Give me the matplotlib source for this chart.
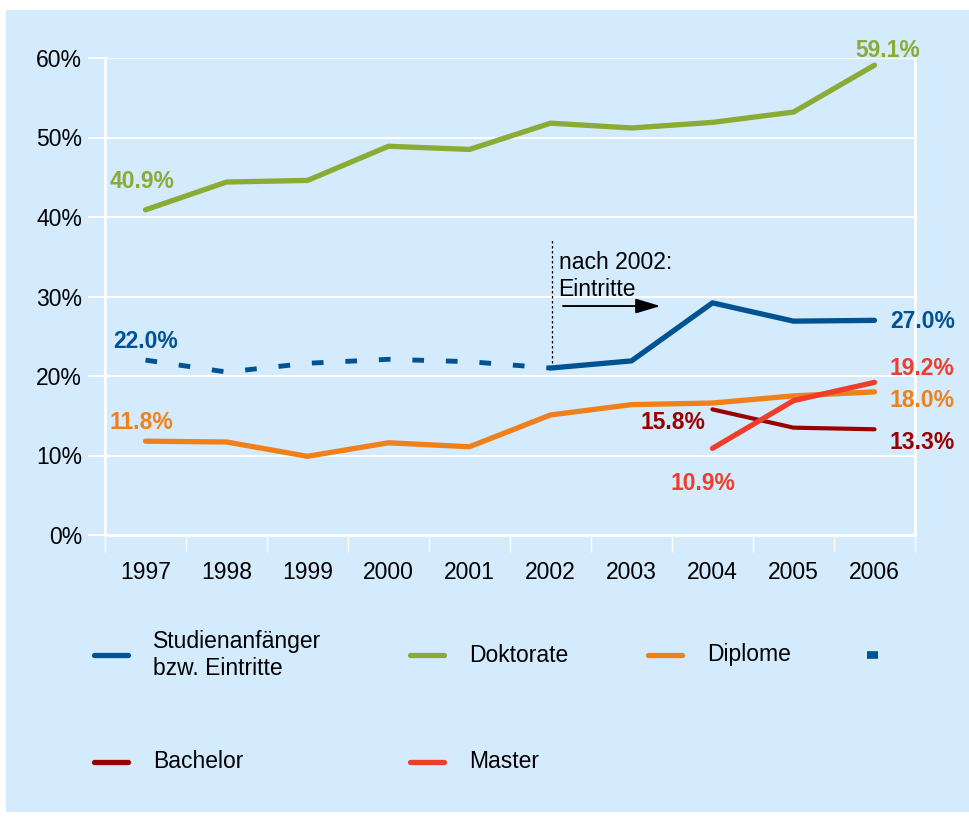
import matplotlib.pyplot as plt
import numpy as np
from matplotlib.patches import Rectangle
from matplotlib.lines import Line2D

plt.rcParams['font.family'] = ['Liberation Sans', 'DejaVu Sans']

# data (percent)
years = ["1997", "1998", "1999", "2000", "2001", "2002", "2003", "2004", "2005", "2006"]
doktorate = [40.9, 44.4, 44.6, 48.9, 48.5, 51.8, 51.2, 51.9, 53.2, 59.1]
anfaenger = [22.0, 20.5, 21.6, 22.1, 21.8, 21.0]          # 1997-2002, dashed
eintritte = [21.0, 21.9, 29.2, 26.9, 27.0]                # 2002-2006, solid
diplome = [11.8, 11.7, 9.9, 11.6, 11.1, 15.1, 16.4, 16.6, 17.5, 18.0]
bachelor = [15.8, 13.5, 13.3]                             # 2004-2006
master = [10.9, 16.9, 19.2]                               # 2004-2006

c_blue = "#005293"
c_green = "#8aab34"
c_orange = "#f0801a"
c_bach = "#990000"
c_master = "#ee3d2b"
bg = "#d4eafd"

W, H = 970, 817
fig = plt.figure(figsize=(W / 100, H / 100), dpi=100)
fig.patch.set_facecolor("white")
fig.add_artist(Rectangle((6 / W, 5 / H), (W - 6) / W, (807 - 5) / H,
                         transform=fig.transFigure, facecolor=bg, edgecolor="none", zorder=-10))

ax = fig.add_axes([105 / W, (H - 535) / H, (915 - 105) / W, (535 - 58) / H])
ax.set_facecolor("none")

x = np.arange(len(years))
ax.plot(x, doktorate, color=c_green, lw=3.8, solid_capstyle="round", zorder=3)
ax.plot(x[:6], anfaenger, color=c_blue, lw=3.5, dashes=(2.4, 4.5), dash_capstyle="butt", zorder=3)
ax.plot(x[5:], eintritte, color=c_blue, lw=3.8, solid_capstyle="round", zorder=3)
ax.plot(x, diplome, color=c_orange, lw=3.8, solid_capstyle="round", zorder=3)
ax.plot(x[7:], bachelor, color=c_bach, lw=3.0, solid_capstyle="round", zorder=3)
ax.plot(x[7:], master, color=c_master, lw=3.8, solid_capstyle="round", zorder=4)

ax.set_xlim(-0.5, 9.5)
ax.set_ylim(0, 60)
ax.set_yticks(range(0, 61, 10))
ax.set_yticklabels([f"{v}%" for v in range(0, 61, 10)], fontsize=16.5)
ax.set_xticks(x)
ax.set_xticklabels(years, fontsize=16.5)
ax.set_xticks(np.arange(-0.5, 10, 1), minor=True)
ax.tick_params(axis="x", which="major", length=0, pad=19)
ax.tick_params(axis="x", which="minor", length=12, width=1, color="white")
ax.tick_params(axis="y", length=12.5, width=1.5, color="white", pad=4)
ax.yaxis.grid(True, color="white", lw=1.5)
ax.set_axisbelow(True)
for s in ["left", "right", "bottom"]:
    ax.spines[s].set_color("white")
    ax.spines[s].set_linewidth(2)
ax.spines["top"].set_visible(False)

# value labels
lab = dict(fontsize=16.5, fontweight="bold", va="center")
ax.text(-0.04, 44.5, "40.9%", color=c_green, ha="center", **lab)
ax.text(9.16, 61.0, "59.1%", color=c_green, ha="center", clip_on=False, **lab)
ax.text(0.0, 24.3, "22.0%", color=c_blue, ha="center", **lab)
ax.text(9.2, 26.9, "27.0%", color=c_blue, ha="left", clip_on=False, **lab)
ax.text(-0.05, 14.1, "11.8%", color=c_orange, ha="center", **lab)
ax.text(9.19, 20.9, "19.2%", color=c_master, ha="left", clip_on=False, **lab)
ax.text(9.19, 16.9, "18.0%", color=c_orange, ha="left", clip_on=False, **lab)
ax.text(9.19, 11.6, "13.3%", color=c_bach, ha="left", clip_on=False, **lab)
ax.text(6.51, 14.2, "15.8%", color=c_bach, ha="center", **lab)
ax.text(6.88, 6.5, "10.9%", color=c_master, ha="center", **lab)

# annotation for 2002 break
ax.plot([5.02, 5.02], [21.0, 37.4], color="black", lw=0.9, ls=(0, (2, 2)), zorder=2)
ax.text(5.1, 32.6, "nach 2002:\nEintritte", fontsize=16.5, ha="left", va="center", linespacing=1.2)
ax.annotate("", xy=(6.39, 28.8), xytext=(5.12, 28.8),
            arrowprops=dict(arrowstyle="-|>,head_length=1.5,head_width=0.45", color="black", lw=1.4))

# legend, drawn by hand
def leg_entry(x0, y0, color, text, dashed=False):
    if dashed:
        fig.add_artist(Line2D([(x0 + 12) / W, (x0 + 23) / W], [(H - y0) / H] * 2,
                              color=color, lw=5.5, solid_capstyle="butt"))
    else:
        fig.add_artist(Line2D([x0 / W, (x0 + 34) / W], [(H - y0) / H] * 2,
                              color=color, lw=3.8, solid_capstyle="round"))
    if text:
        fig.text((x0 + 59) / W, (H - y0) / H, text, fontsize=16.5, ha="left", va="center",
                 linespacing=1.2)

leg_entry(94, 655, c_blue, "Studienanfänger\nbzw. Eintritte")
leg_entry(410, 655, c_green, "Doktorate")
leg_entry(648, 655, c_orange, "Diplome")
leg_entry(855, 655, c_blue, "", dashed=True)
leg_entry(94, 762, c_bach, "Bachelor")
leg_entry(410, 762, c_master, "Master")

fig.savefig("out.png", dpi=100, facecolor=fig.get_facecolor())
